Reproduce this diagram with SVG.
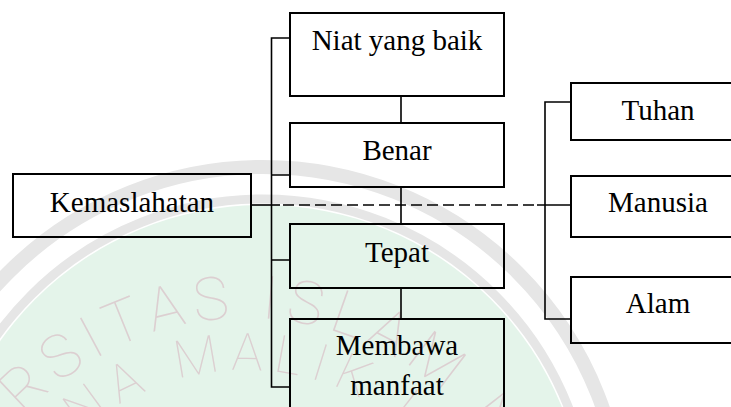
<svg xmlns="http://www.w3.org/2000/svg" width="731" height="407" viewBox="0 0 731 407">
  <style>
    .box { fill: none; stroke: #000; stroke-width: 2; }
    .lbl { font-family: "Liberation Serif", "Times New Roman", serif; font-size: 29px; fill: #000; text-anchor: middle; }
    .wire { fill: none; stroke: #000; stroke-width: 1.6; }
    .dash { stroke-dasharray: 11 5; }
    .wm-ring { fill: none; stroke: #e6e6e6; }
    .wm-text { font-family: Roboto, "DejaVu Sans", sans-serif; font-weight: 100; fill: #dccfd1; }
  </style>
  <defs>
    <path id="arc-outer" d="M -13.8 768 A 300 300 0 1 1 505.8 768"/>
    <path id="arc-inner" d="M 31.2 742 A 248 248 0 1 1 460.8 742"/>
  </defs>

  <rect width="731" height="407" fill="#fff"/>

  <!-- faint seal in the background -->
  <g id="watermark">
    <circle cx="263" cy="527" r="322" fill="#e4f4ea"/>
    <circle class="wm-ring" cx="263" cy="527" r="360" stroke-width="14"/>
    <circle class="wm-ring" cx="263" cy="527" r="328" stroke-width="9"/>
    <text class="wm-text" font-size="60" letter-spacing="8"><textPath href="#arc-outer" startOffset="170">UNIVERSITAS ISLAM NEGERI</textPath></text>
    <text class="wm-text" font-size="52" letter-spacing="10"><textPath href="#arc-inner" startOffset="120">MAULANA MALIK IBRAHIM</textPath></text>
  </g>

  <!-- connectors -->
  <g id="connectors">
    <!-- left bracket joining the four qualities -->
    <path class="wire" d="M 290 38 H 271.5 V 387 H 290 M 271.5 175 H 290 M 271.5 260 H 290"/>
    <!-- chain between the stacked boxes -->
    <path class="wire" d="M 401 96 V 123 M 401 187 V 224 M 401 288 V 319"/>
    <!-- Kemaslahatan to the bracket, then dashed to the right group -->
    <path class="wire" d="M 251 205 H 280"/>
    <path class="wire dash" d="M 283 205 H 537"/>
    <path class="wire" d="M 537 205 H 571"/>
    <!-- right bracket -->
    <path class="wire" d="M 571 102 H 545 V 319 H 571"/>
  </g>

  <g id="node-kemaslahatan">
    <rect class="box" x="13" y="174" width="238" height="63"/>
    <text class="lbl" x="132" y="212">Kemaslahatan</text>
  </g>

  <g id="node-niat">
    <rect class="box" x="290" y="13" width="214" height="83"/>
    <text class="lbl" x="397" y="50">Niat yang baik</text>
  </g>

  <g id="node-benar">
    <rect class="box" x="290" y="123" width="214" height="64"/>
    <text class="lbl" x="397" y="160">Benar</text>
  </g>

  <g id="node-tepat">
    <rect class="box" x="290" y="224" width="214" height="64"/>
    <text class="lbl" x="397" y="262">Tepat</text>
  </g>

  <g id="node-membawa">
    <rect class="box" x="290" y="319" width="214" height="110"/>
    <text class="lbl" x="397" y="355">Membawa</text>
    <text class="lbl" x="397" y="395">manfaat</text>
  </g>

  <g id="node-tuhan">
    <rect class="box" x="571" y="83" width="174" height="57"/>
    <text class="lbl" x="658" y="120">Tuhan</text>
  </g>

  <g id="node-manusia">
    <rect class="box" x="571" y="176" width="174" height="61"/>
    <text class="lbl" x="658" y="212">Manusia</text>
  </g>

  <g id="node-alam">
    <rect class="box" x="571" y="277" width="174" height="66"/>
    <text class="lbl" x="658" y="313">Alam</text>
  </g>
</svg>
